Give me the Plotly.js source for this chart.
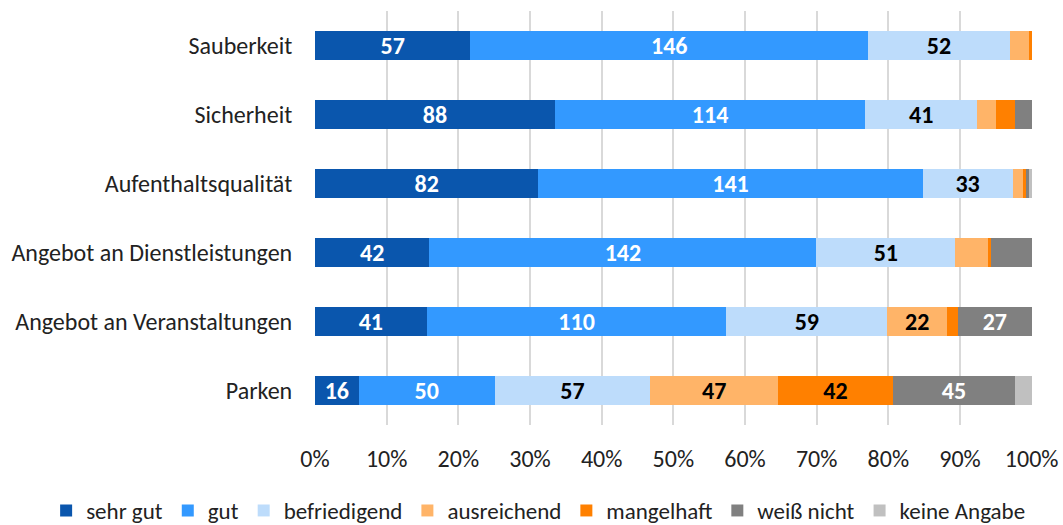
<!DOCTYPE html>
<html>
<head>
<meta charset="utf-8">
<script src="https://cdn.plot.ly/plotly-3.0.1.min.js"></script>
<style>
  html, body { margin: 0; padding: 0; background: #fff; }
  #chart { width: 1063px; height: 525px; }
</style>
</head>
<body>
<div id="chart"></div>
<script>
const categories = ['Sauberkeit', 'Sicherheit', 'Aufenthaltsqualität', 'Angebot an Dienstleistungen', 'Angebot an Veranstaltungen', 'Parken'];
const seriesNames = ['sehr gut', 'gut', 'befriedigend', 'ausreichend', 'mangelhaft', 'weiß nicht', 'keine Angabe'];
const sehrGut = [57, 88, 82, 42, 41, 16];
const gut = [146, 114, 141, 142, 110, 50];
const befriedigend = [52, 41, 33, 51, 59, 57];
const ausreichend = [7, 7, 4, 12, 22, 47];
const mangelhaft = [1, 7, 1, 1, 4, 42];
const weissNicht = [0, 6, 1, 15, 27, 45];
const keineAngabe = [0, 0, 1, 0, 0, 6];
const xTicks = [0, 0.1, 0.2, 0.3, 0.4, 0.5, 0.6, 0.7, 0.8, 0.9, 1];

const series = [sehrGut, gut, befriedigend, ausreichend, mangelhaft, weissNicht, keineAngabe];
const colors = ['#0a56ad', '#3399ff', '#bddcfb', '#ffb468', '#ff8000', '#808080', '#c0c0c0'];
const textColors = ['#ffffff', '#ffffff', '#000000', '#000000', '#000000', '#ffffff', '#000000'];
const font = 'Carlito, Calibri, Lato, sans-serif';

// nur Segmente mit genug Platz beschriften
const traces = series.map((values, i) => ({
  type: 'bar',
  orientation: 'h',
  name: seriesNames[i],
  y: categories,
  x: values,
  text: values.map(v => (v >= 16 ? String(v) : '')),
  textposition: 'inside',
  insidetextanchor: 'middle',
  textangle: 0,
  constraintext: 'none',
  textfont: { family: font, size: 24, color: textColors[i], weight: 'bold' },
  marker: { color: colors[i] },
  hoverinfo: 'name+x'
}));

Plotly.newPlot('chart', traces, {
  width: 1063,
  height: 525,
  barmode: 'stack',
  barnorm: 'fraction',
  bargap: 0.59,
  paper_bgcolor: '#ffffff',
  plot_bgcolor: '#ffffff',
  font: { family: font, size: 24, color: '#222' },
  margin: { l: 315, r: 31, t: 11, b: 100, autoexpand: false },
  xaxis: {
    range: [0, 1.0005],
    tickvals: xTicks,
    tickformat: '.0%',
    showgrid: true,
    gridcolor: '#d9d9d9',
    gridwidth: 2,
    zeroline: false,
    showline: false,
    ticks: 'outside',
    ticklen: 12,
    tickcolor: 'rgba(0,0,0,0)',
    tickfont: { size: 24, color: '#222' },
    fixedrange: true
  },
  yaxis: {
    autorange: 'reversed',
    showgrid: false,
    zeroline: false,
    ticks: 'outside',
    ticklen: 17,
    tickcolor: 'rgba(0,0,0,0)',
    tickfont: { size: 24, color: '#222' },
    fixedrange: true
  },
  legend: {
    orientation: 'h',
    x: -0.375,
    xanchor: 'left',
    y: -0.2065,
    yanchor: 'middle',
    font: { size: 23, color: '#222' },
    traceorder: 'normal'
  },
  showlegend: true
}, { displayModeBar: false });
</script>
</body>
</html>
